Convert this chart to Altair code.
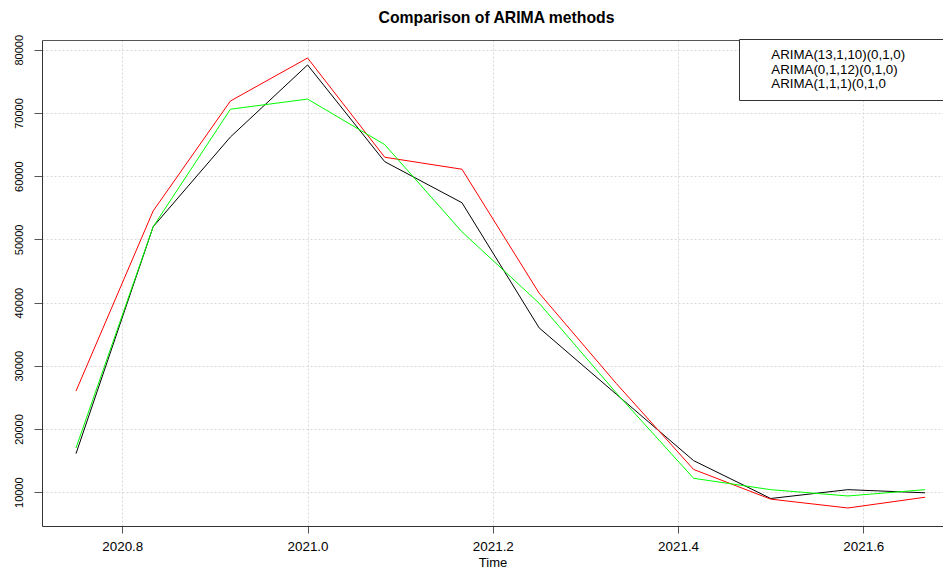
import altair as alt
import pandas as pd

# ---- data ----
times = [2020.75, 2020.8333, 2020.9167, 2021.0, 2021.0833, 2021.1667,
         2021.25, 2021.3333, 2021.4167, 2021.5, 2021.5833, 2021.6667]
labels = ["ARIMA(13,1,10)(0,1,0)", "ARIMA(0,1,12)(0,1,0)", "ARIMA(1,1,1)(0,1,0"]
colors = ["#000000", "#FF0000", "#00FF00"]
black_vals = [16100, 52000, 66200, 77600, 62300, 55800, 36000, 25500, 15000, 9000, 10400, 9900]
red_vals = [26000, 54500, 71900, 78700, 63000, 61100, 41500, 27200, 13600, 8900, 7500, 9200]
green_vals = [17000, 52000, 70600, 72200, 65000, 51200, 39900, 25700, 12200, 10400, 9400, 10400]
x_ticks = [2020.8, 2021.0, 2021.2, 2021.4, 2021.6]
y_ticks = [10000, 20000, 30000, 40000, 50000, 60000, 70000, 80000]

rows = []
for lab, vals in zip(labels, [black_vals, red_vals, green_vals]):
    for t, v in zip(times, vals):
        rows.append({"time": t, "value": v, "series": lab})
df = pd.DataFrame(rows)

FONT = "Liberation Sans"
x_scale = alt.Scale(domain=[2020.7133, 2021.686], nice=False, zero=False)
y_scale = alt.Scale(domain=[4650, 81550], nice=False, zero=False)

y_enc = alt.Y("value:Q", scale=y_scale,
              axis=alt.Axis(values=y_ticks, format="d", title=None,
                            labelAngle=-90, labelAlign="center", labelBaseline="bottom",
                            labelFontSize=11, labelPadding=9.5, tickSize=8,
                            grid=True, gridColor="#D8D8D8", gridDash=[2, 2],
                            domainColor="#333333", tickColor="#555555"))

base = alt.Chart(df)

lines = base.mark_line(strokeWidth=1).encode(
    x=alt.X("time:Q", scale=x_scale,
            axis=alt.Axis(values=x_ticks, format=".1f", title="Time",
                          labelFontSize=13.4, labelPadding=6.5, tickSize=7,
                          titleFontSize=13, titleFontWeight="normal", titlePadding=4,
                          grid=True, gridColor="#D8D8D8", gridDash=[2, 2],
                          domainColor="#333333", tickColor="#555555")),
    y=y_enc,
    color=alt.Color("series:N",
                    scale=alt.Scale(domain=labels, range=colors),
                    legend=alt.Legend(orient="none", legendX=697, legendY=-1, title=None,
                                      labelFontSize=13.3, labelColor="#000000",
                                      symbolType="circle", symbolSize=16, symbolOpacity=0,
                                      symbolStrokeWidth=0, labelOffset=10, padding=9,
                                      rowPadding=0.9, strokeColor="#333333",
                                      fillColor="#FFFFFF", labelLimit=400,
                                      labelExpr="datum.label + '                  \u200b'")),
)

top_frame = base.mark_line(opacity=0).encode(
    x=alt.X("time:Q", scale=x_scale,
            axis=alt.Axis(orient="top", labels=False, ticks=False, grid=False, title=None,
                          domainColor="#555555")),
    y=y_enc,
    detail="series:N",
)

chart = alt.layer(lines, top_frame).resolve_axis(x="independent").properties(
    width=901,
    height=486,
    autosize=alt.AutoSizeParams(type="none"),
    padding={"left": 34, "top": 32, "right": 0, "bottom": 44},
    title=alt.Title("Comparison of ARIMA methods", fontSize=15.75, fontWeight="bold",
                    anchor="middle", baseline="alphabetic", offset=0, dy=4, dx=4,
                    color="#000000"),
).configure(font=FONT).configure_view(stroke=None).configure_axis(
    labelColor="#000000", titleColor="#000000", labelFont=FONT, titleFont=FONT
).configure_legend(labelFont=FONT)

chart.save("out.html", embed_options={"renderer": "svg", "actions": False})
